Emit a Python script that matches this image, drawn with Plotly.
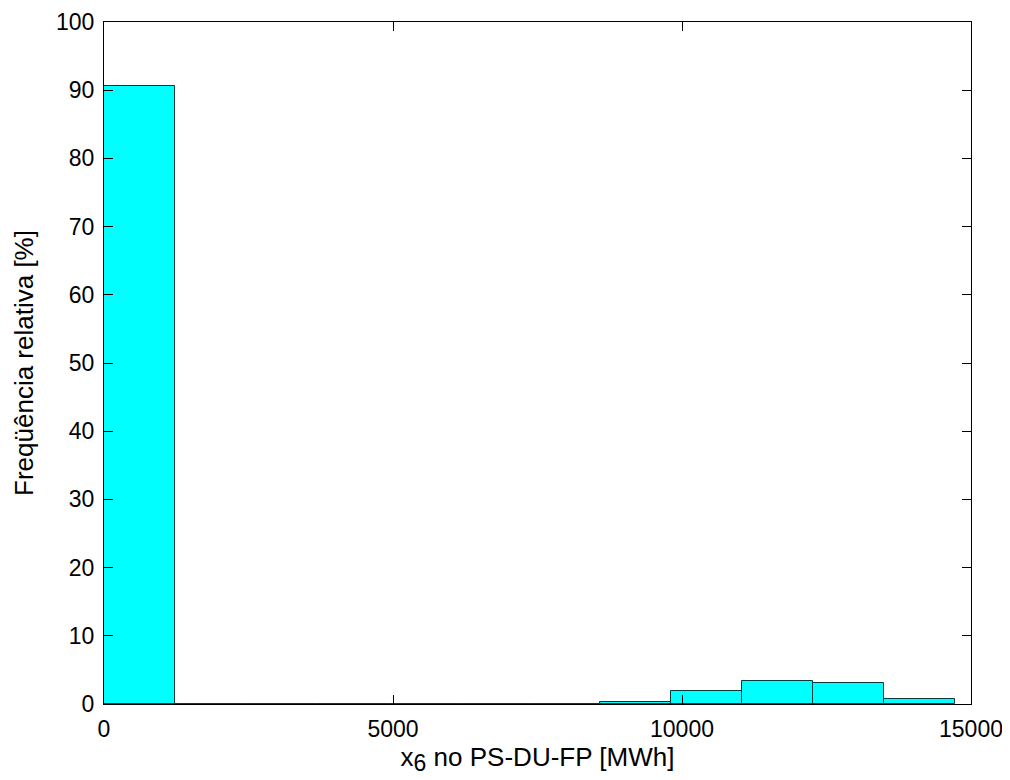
import plotly.graph_objects as go

# Histogram data (MATLAB-style hist, 12 bins from 0 to ~14723)
bin_edges = [0, 1227, 2454, 3681, 4908, 6135, 7362, 8589, 9815, 11042, 12269, 13496, 14723]
freq_pct = [90.6, 0, 0, 0, 0, 0, 0, 0.25, 1.9, 3.35, 3.1, 0.75]
x_ticks = [0, 5000, 10000, 15000]
y_ticks = [0, 10, 20, 30, 40, 50, 60, 70, 80, 90, 100]

centers = [(bin_edges[i] + bin_edges[i + 1]) / 2 for i in range(len(freq_pct))]
widths = [bin_edges[i + 1] - bin_edges[i] for i in range(len(freq_pct))]

fig = go.Figure()
fig.add_trace(go.Bar(
    x=centers, y=freq_pct, width=widths,
    marker=dict(color="#00FFFF", line=dict(color="#0a3a3a", width=1)),
    showlegend=False,
))

font = dict(family="Liberation Sans, Arial, sans-serif", size=23, color="black")
tfont = dict(family="Liberation Sans, Arial, sans-serif", size=26, color="black")
fig.update_layout(
    width=1002, height=772,
    margin=dict(l=96, r=39, t=14, b=76, autoexpand=False),
    paper_bgcolor="white", plot_bgcolor="white",
    font=font, bargap=0,
)
fig.update_xaxes(
    range=[0, 15000], tickvals=x_ticks, ticktext=[str(v) for v in x_ticks],
    showline=True, linecolor="black", linewidth=1, mirror="ticks",
    ticks="inside", ticklen=9, tickcolor="black", showgrid=False, zeroline=False,
    tickfont=font, ticklabelstandoff=4, automargin=False,
    title=dict(text="x<sub><span style='font-size:23px'>6</span></sub> no PS-DU-FP [MWh]",
               standoff=2, font=tfont),
)
fig.update_yaxes(
    range=[0, 100], tickvals=y_ticks, ticktext=[str(v) for v in y_ticks],
    showline=True, linecolor="black", linewidth=1, mirror="ticks",
    ticks="inside", ticklen=9, tickcolor="black", showgrid=False, zeroline=False,
    tickfont=font, ticklabelstandoff=4, automargin=False,
    title=dict(text="Freqüência relativa [%]", standoff=14, font=tfont),
)
fig.write_html("out.html")
